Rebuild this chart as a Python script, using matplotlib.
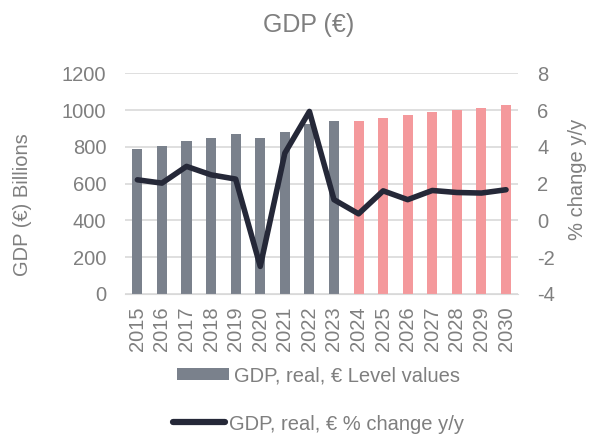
import matplotlib
matplotlib.use('Agg')
import matplotlib.pyplot as plt
from matplotlib.patches import Patch
from matplotlib.lines import Line2D

# Data
years = [str(y) for y in range(2015, 2031)]
level = [790, 806, 832, 851, 868, 848, 879, 925, 941,
         942, 959, 971, 988, 998, 1013, 1029]
change = [2.21, 2.03, 2.94, 2.48, 2.25, -2.5, 3.66, 5.93, 1.13,
          0.36, 1.61, 1.13, 1.63, 1.52, 1.49, 1.67]
n_actual = 9  # 2015-2023 actual, rest forecast

GRAY = '#7a818c'
PINK = '#f4999c'
LINE = '#252838'
TXT = '#7f7f7f'
FS = 14.5

plt.rcParams['font.family'] = ['Liberation Sans', 'DejaVu Sans']
plt.rcParams['axes.unicode_minus'] = False

fig = plt.figure(figsize=(5.9, 4.34), dpi=100)
ax = fig.add_axes([0.212, 0.3226, 0.6665, 0.5084])
ax2 = ax.twinx()

x = list(range(len(years)))
colors = [GRAY if i < n_actual else PINK for i in x]
ax.bar(x, level, width=0.41, color=colors, zorder=2)
ax2.plot(x, change, color=LINE, lw=4, solid_capstyle='round', zorder=3)

ax.set_xlim(-0.5, len(years) - 0.5)
ax.set_ylim(0, 1200)
ax.set_yticks(range(0, 1201, 200))
ax2.set_ylim(-4, 8)
ax2.set_yticks(range(-4, 9, 2))

ax.set_xticks(x)
ax.set_xticklabels(years, rotation=90)
ax.grid(axis='y', color='#d9d9d9', lw=1.2, zorder=0)
ax.set_axisbelow(True)

for a in (ax, ax2):
    for s in a.spines.values():
        s.set_visible(False)
    a.tick_params(length=0, colors=TXT, labelsize=FS)
ax.spines['bottom'].set_visible(True)
ax.spines['bottom'].set_color('#d9d9d9')
ax.tick_params(axis='y', pad=13.5)
ax2.tick_params(axis='y', pad=13.5)
ax.tick_params(axis='x', pad=9)

ax.set_ylabel('GDP (€) Billions', color=TXT, fontsize=FS)
ax.yaxis.set_label_coords(-0.236, 0.403)
ax2.set_ylabel('% change y/y', color=TXT, fontsize=FS)
ax2.yaxis.set_label_coords(1.126, 0.52)
fig.text(0.523, 0.942, 'GDP (€)', ha='center', va='center', color=TXT, fontsize=18)

h1 = Patch(facecolor=GRAY)
h2 = Line2D([0], [0], color=LINE, lw=4.5, solid_capstyle='round')
fig.legend([h1], ['GDP, real, € Level values'], loc='center',
           bbox_to_anchor=(0.54, 0.134), frameon=False, fontsize=FS,
           labelcolor=TXT, handlelength=2.6, handleheight=0.55,
           handletextpad=0.25)
fig.legend([h2], ['GDP, real, € % change y/y'], loc='center',
           bbox_to_anchor=(0.54, 0.023), frameon=False, fontsize=FS,
           labelcolor=TXT, handlelength=2.6, handletextpad=0.2)

fig.savefig('out.png', dpi=100)
